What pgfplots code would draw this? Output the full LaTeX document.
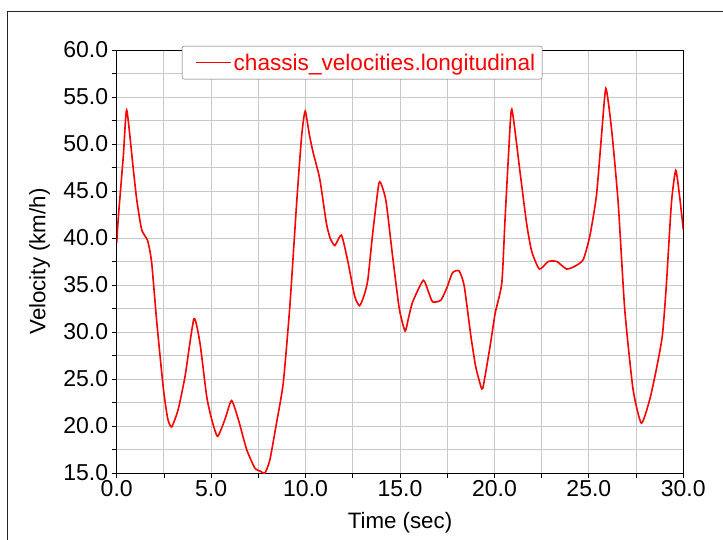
\documentclass[border=0pt]{standalone}
\usepackage{pgfplots}
\pgfplotsset{compat=1.18}
\usepackage{fontspec}
\setmainfont{Liberation Sans}
\definecolor{gridgray}{RGB}{200,200,200}
\begin{document}
\begin{tikzpicture}[x=1pt,y=1pt]
\path[use as bounding box] (0,0) rectangle (723,539);
\draw[line width=1pt, black!85] (7,-2) -- (7,527) -- (725,527);
\begin{axis}[
  at={(116.7pt,66pt)}, anchor=south west,
  scale only axis, width=566.6pt, height=423pt,
  xmin=0, xmax=30, ymin=15, ymax=60,
  xtick={0,5,...,30}, minor xtick={2.5,7.5,...,27.5},
  ytick={15,20,...,60}, minor ytick={17.5,22.5,...,57.5},
  xtick pos=bottom, ytick pos=left,
  grid=both,
  major grid style={gridgray, line width=0.9pt},
  minor grid style={gridgray, line width=0.9pt},
  tick align=outside, major tick length=5pt, minor tick length=5pt,
  tick style={black, line width=0.8pt},
  axis line style={black, line width=0.9pt},
  tick label style={font=\fontsize{23}{26}\selectfont},
  xticklabel style={yshift=1pt},
  /pgf/number format/assume math mode=true,
  xticklabel={\pgfmathprintnumber[fixed,fixed zerofill,precision=1]{\tick}},
  yticklabel={\pgfmathprintnumber[fixed,fixed zerofill,precision=1]{\tick}},
  xlabel={Time (sec)}, ylabel={Velocity (km/h)},
  label style={font=\fontsize{22.3}{25}\selectfont},
  xlabel style={at={(axis description cs:0.5,-0.118)}, anchor=center},
  ylabel style={at={(axis description cs:-0.136,0.5)}, anchor=center},
  legend style={at={(axis description cs:0.115,1.0095)}, anchor=north west,
    draw=black!60, rounded corners=2pt, fill=white,
    inner xsep=5pt, inner ysep=5.5pt,
    font=\fontsize{22.6}{25}\selectfont, text=red},
  legend image code/.code={\path (0pt,0pt); \draw[#1] (8pt,0pt) -- (43pt,0pt);},
  legend cell align=left,
]
\addplot[red, line width=1.6pt, smooth, tension=0.35] coordinates {
(0,39.5) (0.09,42.3) (0.35,48.7) (0.53,53.6) (0.88,47.3) (1.06,44.1)
(1.32,40.9) (1.64,39.7) (1.85,37.4) (2.12,31.1) (2.47,24.0) (2.70,20.8)
(2.91,19.9) (3.26,21.8) (3.62,25.3) (4.09,31.4) (4.41,28.8) (4.76,23.2)
(5.03,20.7) (5.34,18.9) (5.73,20.7) (6.08,22.7) (6.44,20.7) (6.88,17.5)
(7.32,15.5) (7.6,15.2) (7.85,15.0) (8.11,16.4) (8.47,20.4) (8.82,24.6)
(9.17,32.8) (9.52,43.5) (9.79,50.8) (9.98,53.5) (10.2,51.0) (10.4,49.1)
(10.75,46.3) (11.1,41.6) (11.3,40.0) (11.55,39.2) (11.9,40.3) (12.25,37.4)
(12.6,33.8) (12.86,32.8) (13.1,33.9) (13.3,35.6) (13.56,40.6) (13.88,45.8)
(14.05,45.5) (14.27,43.8) (14.6,38.2) (14.96,32.5) (15.27,30.1) (15.45,31.5)
(15.67,33.2) (16.23,35.5) (16.5,34.3) (16.73,33.2) (17.17,33.4) (17.5,34.8)
(17.78,36.3) (18.13,36.5) (18.4,34.9) (18.75,29.6) (19.0,26.4) (19.2,24.8)
(19.38,24.0) (19.77,28.5) (20.04,32.0) (20.39,35.2) (20.56,41.9) (20.75,49.0)
(20.92,53.7) (21.36,46.95) (21.7,41.6) (21.97,38.6) (22.38,36.7) (22.85,37.5)
(23.3,37.5) (23.82,36.7) (24.26,37.0) (24.7,37.7) (25.05,40.2) (25.4,44.5)
(25.67,50.9) (25.9,55.9) (26.2,51.6) (26.55,43.8) (26.9,32.4) (27.34,23.9)
(27.78,20.3) (28.22,22.8) (28.57,26.0) (28.89,29.6) (29.1,34.9) (29.37,43.7)
(29.6,47.2) (29.8,44.5) (30.0,40.9)
};
\addlegendentry{chassis\_velocities.longitudinal}
\end{axis}
\end{tikzpicture}
\end{document}
